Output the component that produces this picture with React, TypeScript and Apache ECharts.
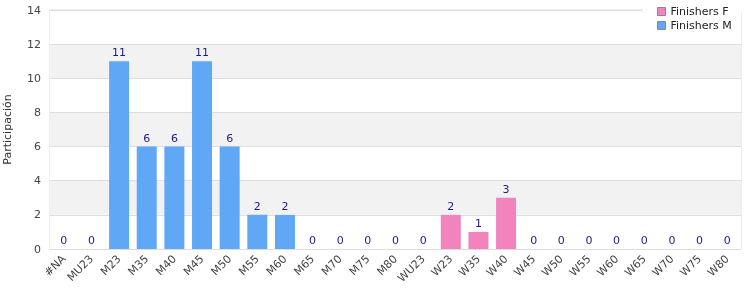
import React, { useEffect, useRef } from "react";
import * as echarts from "echarts";

const categories = ["#NA","MU23","M23","M35","M40","M45","M50","M55","M60","M65","M70","M75","M80","WU23","W23","W35","W40","W45","W50","W55","W60","W65","W70","W75","W80"];
const finishersM = [0,0,11,6,6,11,6,2,2,0,0,0,0,0,null,null,null,0,0,0,0,0,0,0,0];
const finishersF = [null,null,null,null,null,null,null,null,null,null,null,null,null,null,2,1,3,null,null,null,null,null,null,null,null];
const yTicks = { min: 0, max: 14, interval: 2 };

export default function App() {
  const ref = useRef<HTMLDivElement>(null);
  useEffect(() => {
    const chart = echarts.init(ref.current!, null, { renderer: "svg" });
    const label = { show: true, position: "top", color: "#1a1a8c", fontSize: 11, fontFamily: "DejaVu Sans", distance: 3 };
    chart.setOption({
      animation: false,
      textStyle: { fontFamily: "DejaVu Sans" },
      grid: { left: 50, right: 9, top: 10, bottom: 51, show: true, borderColor: "#dddddd", borderWidth: 1, backgroundColor: "transparent", containLabel: false, outerBoundsMode: "none" },
      legend: {
        orient: "vertical",
        top: 1,
        left: 652,
        itemWidth: 8,
        itemHeight: 8,
        itemGap: 3,
        icon: "rect",
        z: 10,
        textStyle: { fontSize: 11, color: "#222", fontFamily: "DejaVu Sans" },
        data: [
          { name: "Finishers F", itemStyle: { borderColor: "#888", borderWidth: 1 } },
          { name: "Finishers M", itemStyle: { borderColor: "#888", borderWidth: 1 } },
        ],
      },
      graphic: [
        { type: "rect", shape: { x: 643, y: 8, width: 107, height: 4 }, style: { fill: "#fff" }, z: 1 },
      ],
      xAxis: {
        type: "category",
        data: categories,
        axisLine: { show: true, lineStyle: { color: "#dddddd" } },
        axisTick: { show: false },
        axisLabel: { rotate: 45, fontSize: 11, color: "#444", margin: 8, interval: 0, hideOverlap: false },
      },
      yAxis: {
        type: "value",
        min: yTicks.min,
        max: yTicks.max,
        interval: yTicks.interval,
        name: "Participación",
        nameLocation: "middle",
        nameGap: 37,
        nameTextStyle: { fontSize: 11, color: "#333" },
        axisLine: { show: false },
        axisTick: { show: false },
        axisLabel: { fontSize: 11, color: "#444", margin: 9 },
        splitLine: { show: true, lineStyle: { color: "#dddddd" } },
        splitArea: { show: true, areaStyle: { color: ["#ffffff", "#f2f2f2"] } },
      },
      series: [
        { name: "Finishers F", type: "bar", stack: "a", data: finishersF, barWidth: 20, itemStyle: { color: "#f283bd" }, label },
        { name: "Finishers M", type: "bar", stack: "a", data: finishersM, barWidth: 20, itemStyle: { color: "#60a8f5" }, label },
      ],
    });
    return () => chart.dispose();
  }, []);
  return <div ref={ref} style={{ width: 750, height: 300, position: "fixed", left: 0, top: 0 }} />;
}
